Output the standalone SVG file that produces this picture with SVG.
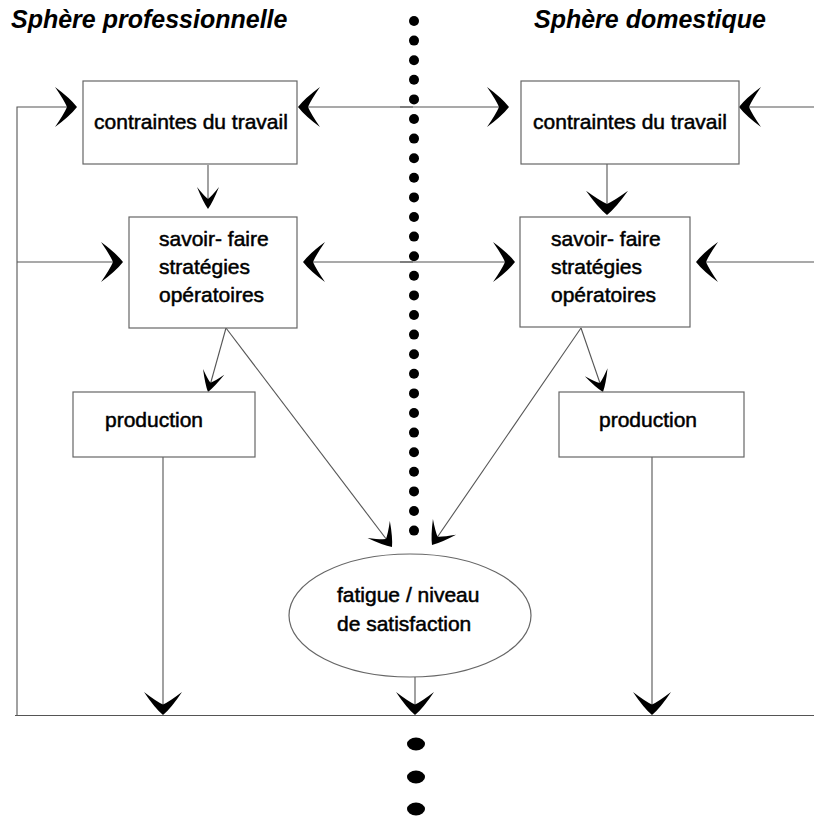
<svg xmlns="http://www.w3.org/2000/svg" xmlns:xlink="http://www.w3.org/1999/xlink" width="814" height="816" viewBox="0 0 814 816">
<style>
  .box { fill: #fff; stroke: #666; stroke-width: 1.2; }
  .ln { fill: none; stroke: #555; stroke-width: 1.1; }
  .t { font-family: "Liberation Sans", Arial, sans-serif; font-size: 21px; fill: #000; stroke: #000; stroke-width: 0.5; }
  .title { font-family: "Liberation Sans", Arial, sans-serif; font-size: 25px; font-style: italic; font-weight: bold; fill: #000; }
  .dot { fill: #000; }
  .ah { fill: #000; }
</style>
<defs>
  <path id="ah" class="ah" d="M0,0 Q-7,-9 -22,-20 Q-13,-7 -10,0 Q-13,7 -22,20 Q-7,9 0,0 Z"/>
</defs>
<rect width="814" height="816" fill="#fff"/>

<g id="titles">
  <text class="title" x="11" y="28">Sphère professionnelle</text>
  <text class="title" x="534" y="28">Sphère domestique</text>
</g>

<g id="separator">
  <circle class="dot" cx="414" cy="21" r="5"/>
  <circle class="dot" cx="414" cy="40.6" r="5"/>
  <circle class="dot" cx="414" cy="60.2" r="5"/>
  <circle class="dot" cx="414" cy="79.8" r="5"/>
  <circle class="dot" cx="414" cy="99.4" r="5"/>
  <circle class="dot" cx="414" cy="119" r="5"/>
  <circle class="dot" cx="414" cy="138.6" r="5"/>
  <circle class="dot" cx="414" cy="158.2" r="5"/>
  <circle class="dot" cx="414" cy="177.8" r="5"/>
  <circle class="dot" cx="414" cy="197.4" r="5"/>
  <circle class="dot" cx="414" cy="217" r="5"/>
  <circle class="dot" cx="414" cy="236.6" r="5"/>
  <circle class="dot" cx="414" cy="256.2" r="5"/>
  <circle class="dot" cx="414" cy="275.8" r="5"/>
  <circle class="dot" cx="414" cy="295.4" r="5"/>
  <circle class="dot" cx="414" cy="315" r="5"/>
  <circle class="dot" cx="414" cy="334.6" r="5"/>
  <circle class="dot" cx="414" cy="354.2" r="5"/>
  <circle class="dot" cx="414" cy="373.8" r="5"/>
  <circle class="dot" cx="414" cy="393.4" r="5"/>
  <circle class="dot" cx="414" cy="413" r="5"/>
  <circle class="dot" cx="414" cy="432.6" r="5"/>
  <circle class="dot" cx="414" cy="452.2" r="5"/>
  <circle class="dot" cx="414" cy="471.8" r="5"/>
  <circle class="dot" cx="414" cy="491.4" r="5"/>
  <circle class="dot" cx="414" cy="511" r="5"/>
  <circle class="dot" cx="414" cy="530.6" r="5"/>
  <ellipse class="dot" cx="416" cy="744" rx="9" ry="6.5"/>
  <ellipse class="dot" cx="416" cy="777" rx="9" ry="6.5"/>
  <ellipse class="dot" cx="416" cy="809" rx="9" ry="6.5"/>
</g>

<g id="connectors">
  <path class="ln" d="M17,715.5 V107 H72"/>
  <path class="ln" d="M17,262 H118"/>
  <path class="ln" d="M413,107 H302"/>
  <path class="ln" d="M413,262 H307"/>
  <path class="ln" d="M400,107 H505"/>
  <path class="ln" d="M814,107 H743"/>
  <path class="ln" d="M400,262 H511"/>
  <path class="ln" d="M814,262 H700"/>
  <path class="ln" d="M208,165 V205"/>
  <path class="ln" d="M607,164 V211"/>
  <path class="ln" d="M226,328 L209,389"/>
  <path class="ln" d="M226,328 L390,544"/>
  <path class="ln" d="M581,328 L602,389"/>
  <path class="ln" d="M581,328 L434,542"/>
  <path class="ln" d="M163,457 V712"/>
  <path class="ln" d="M415,677 V712"/>
  <path class="ln" d="M652,457 V712"/>
  <path class="ln" d="M15,715.5 H814"/>
  <use xlink:href="#ah" transform="translate(77,107)"/>
  <use xlink:href="#ah" transform="translate(298,107) rotate(180)"/>
  <use xlink:href="#ah" transform="translate(509,107)"/>
  <use xlink:href="#ah" transform="translate(739,107) rotate(180)"/>
  <use xlink:href="#ah" transform="translate(123,262)"/>
  <use xlink:href="#ah" transform="translate(303,262) rotate(180)"/>
  <use xlink:href="#ah" transform="translate(515,262)"/>
  <use xlink:href="#ah" transform="translate(696,262) rotate(180)"/>
  <use xlink:href="#ah" transform="translate(208,209) rotate(90) scale(1,0.55)"/>
  <use xlink:href="#ah" transform="translate(607,215) rotate(90) scale(1.1,1.05)"/>
  <use xlink:href="#ah" transform="translate(208,392) rotate(105.7) scale(0.95,0.55)"/>
  <use xlink:href="#ah" transform="translate(392,547) rotate(52.8) scale(1,0.7)"/>
  <use xlink:href="#ah" transform="translate(603,392) rotate(71) scale(0.95,0.6)"/>
  <use xlink:href="#ah" transform="translate(432,545) rotate(124.5) scale(1,0.7)"/>
  <use xlink:href="#ah" transform="translate(163,715) rotate(90) scale(1.05,0.95)"/>
  <use xlink:href="#ah" transform="translate(415,715) rotate(90) scale(1.05,0.95)"/>
  <use xlink:href="#ah" transform="translate(652,715) rotate(90) scale(1.05,0.95)"/>
</g>

<g id="contraintes-pro">
  <rect class="box" x="83" y="81" width="214" height="83"/>
  <text class="t" x="191" y="129" text-anchor="middle">contraintes du travail</text>
</g>
<g id="savoir-pro">
  <rect class="box" x="129" y="217" width="168" height="111"/>
  <text class="t" x="159" y="246">savoir- faire</text>
  <text class="t" x="159" y="274">stratégies</text>
  <text class="t" x="159" y="302">opératoires</text>
</g>
<g id="production-pro">
  <rect class="box" x="73" y="392" width="182" height="65"/>
  <text class="t" x="154" y="427" text-anchor="middle">production</text>
</g>

<g id="contraintes-dom">
  <rect class="box" x="521" y="81" width="218" height="83"/>
  <text class="t" x="630" y="129" text-anchor="middle">contraintes du travail</text>
</g>
<g id="savoir-dom">
  <rect class="box" x="520" y="217" width="170" height="110"/>
  <text class="t" x="551" y="246">savoir- faire</text>
  <text class="t" x="551" y="274">stratégies</text>
  <text class="t" x="551" y="302">opératoires</text>
</g>
<g id="production-dom">
  <rect class="box" x="559" y="392" width="185" height="65"/>
  <text class="t" x="648" y="427" text-anchor="middle">production</text>
</g>

<g id="fatigue">
  <ellipse class="box" cx="410" cy="615.5" rx="121" ry="61.5"/>
  <text class="t" x="337" y="602">fatigue / niveau</text>
  <text class="t" x="337" y="631">de satisfaction</text>
</g>
</svg>
